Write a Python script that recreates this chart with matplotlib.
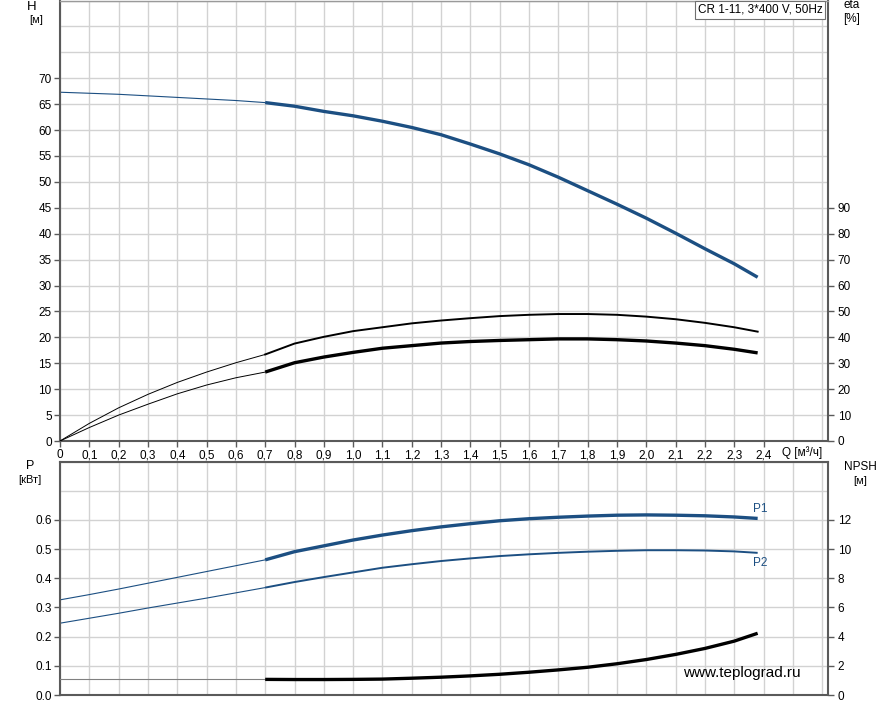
import matplotlib
matplotlib.use("Agg")
from matplotlib import pyplot as plt
from matplotlib.ticker import FixedLocator

plt.rcParams['font.family'] = ['Liberation Sans', 'DejaVu Sans']

# flow, m3/h (thin = extrapolated part, thick = working range)
q_thin = [0.0, 0.1, 0.2, 0.3, 0.4, 0.5, 0.6, 0.7]
q_work = [0.7, 0.8, 0.9, 1.0, 1.1, 1.2, 1.3, 1.4, 1.5, 1.6, 1.7, 1.8,
          1.9, 2.0, 2.1, 2.2, 2.3, 2.38]

# head H, m
h_thin = [67.3, 67.1, 66.9, 66.6, 66.3, 66.0, 65.7, 65.3]
h_work = [65.3, 64.6, 63.6, 62.75, 61.7, 60.5, 59.1, 57.3, 55.4, 53.3,
          50.9, 48.3, 45.7, 43.0, 40.1, 37.1, 34.2, 31.6]

# efficiency, % (pump and total)
eta_p_thin = [0, 6.8, 12.8, 18.0, 22.6, 26.6, 30.2, 33.4]
eta_p_work = [33.4, 37.6, 40.2, 42.4, 43.9, 45.4, 46.5, 47.4, 48.2, 48.7,
              49.0, 49.0, 48.7, 48.0, 47.0, 45.6, 43.9, 42.2]
eta_t_thin = [0, 5.2, 10.0, 14.2, 18.2, 21.6, 24.4, 26.6]
eta_t_work = [26.6, 30.2, 32.4, 34.2, 35.8, 36.8, 37.8, 38.4, 38.8, 39.1,
              39.4, 39.4, 39.1, 38.6, 37.8, 36.8, 35.4, 34.0]

# power P1 / P2, kW
p1_thin = [0.326, 0.344, 0.363, 0.383, 0.403, 0.423, 0.443, 0.463]
p1_work = [0.463, 0.491, 0.511, 0.531, 0.548, 0.563, 0.576, 0.587, 0.597,
           0.604, 0.609, 0.613, 0.616, 0.617, 0.616, 0.614, 0.610, 0.605]
p2_thin = [0.246, 0.263, 0.280, 0.298, 0.315, 0.332, 0.350, 0.368]
p2_work = [0.368, 0.387, 0.404, 0.420, 0.436, 0.448, 0.459, 0.468, 0.476,
           0.482, 0.487, 0.491, 0.494, 0.496, 0.496, 0.495, 0.492, 0.487]

# NPSH, m
npsh_thin = [1.07, 1.07, 1.07, 1.07, 1.07, 1.07, 1.07, 1.07]
npsh_work = [1.07, 1.06, 1.06, 1.07, 1.09, 1.15, 1.22, 1.31, 1.42, 1.56,
             1.72, 1.90, 2.14, 2.43, 2.78, 3.19, 3.69, 4.23]

x_ticks = [i / 10 for i in range(25)]
x_grid = [i / 10 for i in range(27)]

blue = '#1c4f82'
grid_c = '#d2d2d2'
spine_c = '#5a5a5a'
W, Hpx = 893, 705

fig = plt.figure(figsize=(W / 100, Hpx / 100), dpi=100)
ax = fig.add_axes([60 / W, 1 - 441 / Hpx, 768 / W, 440.5 / Hpx])
ax2 = fig.add_axes([60 / W, 1 - 695 / Hpx, 768 / W, 233.5 / Hpx])


def style(a, ymax, ymajor, yminor):
    a.set_xlim(0, 2.62)
    a.set_ylim(0, ymax)
    a.xaxis.set_major_locator(FixedLocator(x_ticks))
    a.xaxis.set_minor_locator(FixedLocator(x_grid))
    a.yaxis.set_major_locator(FixedLocator(ymajor))
    a.yaxis.set_minor_locator(FixedLocator(yminor))
    a.grid(True, which='both', color=grid_c, lw=1.0)
    a.set_axisbelow(True)
    a.tick_params(which='major', direction='out', length=4, width=1,
                  color=spine_c, labelsize=8.5, pad=2)
    a.tick_params(which='minor', length=0)
    for s in ['left', 'right', 'bottom']:
        a.spines[s].set_color(spine_c)
        a.spines[s].set_linewidth(1.5)
    a.spines['top'].set_color('#9a9a9a')
    a.spines['top'].set_linewidth(1.0)


# ---- top panel: H and eta
style(ax, 85, list(range(0, 75, 5)), list(range(0, 90, 5)))
ax.set_xticklabels(['0'] + [('%.1f' % v).replace('.', ',') for v in x_ticks[1:]])
ax.plot(q_thin, h_thin, color=blue, lw=0.8)
ax.plot(q_work, h_work, color=blue, lw=2.4, solid_capstyle='butt')

axe = ax.twinx()
axe.set_position(ax.get_position())
axe.set_ylim(0, 170)
axe.yaxis.set_major_locator(FixedLocator(list(range(0, 100, 10))))
axe.tick_params(direction='out', length=4, width=1, color=spine_c,
                labelsize=8.5, pad=3)
for s in axe.spines.values():
    s.set_visible(False)
axe.plot(q_thin, eta_p_thin, color='black', lw=0.7)
axe.plot(q_work, eta_p_work, color='black', lw=1.4)
axe.plot(q_thin, eta_t_thin, color='black', lw=0.7)
axe.plot(q_work, eta_t_work, color='black', lw=2.4, solid_capstyle='butt')

fig.text(802 / W, 1 - 453 / Hpx, 'Q [м³/ч]', ha='center', va='center',
         fontsize=8.5)
fig.text(32 / W, 1 - 7 / Hpx, 'H', ha='center', va='center', fontsize=9.5)
fig.text(36 / W, 1 - 20 / Hpx, '[м]', ha='center', va='center', fontsize=8)
fig.text(852 / W, 1 - 5 / Hpx, 'eta', ha='center', va='center', fontsize=8.5)
fig.text(852 / W, 1 - 19 / Hpx, '[%]', ha='center', va='center', fontsize=8.5)
fig.text(760 / W, 1 - 10 / Hpx, 'CR 1-11, 3*400 V, 50Hz', ha='center',
         va='center', fontsize=8.5,
         bbox=dict(boxstyle='square,pad=0.25', fc='white', ec='#707070', lw=0.8))

# ---- bottom panel: P1, P2 and NPSH
style(ax2, 0.8, [i / 10 for i in range(7)], [i / 10 for i in range(9)])
ax2.spines['top'].set_color(spine_c)
ax2.spines['top'].set_linewidth(1.5)
ax2.set_yticklabels(['%.1f' % (i / 10) for i in range(7)])
ax2.tick_params(axis='x', which='major', length=0, labelbottom=False)
ax2.plot(q_thin, p1_thin, color=blue, lw=0.8)
ax2.plot(q_work, p1_work, color=blue, lw=2.4, solid_capstyle='butt')
ax2.plot(q_thin, p2_thin, color=blue, lw=0.8)
ax2.plot(q_work, p2_work, color=blue, lw=1.4, solid_capstyle='butt')
ax2.text(2.39, p1_work[-1] + 0.022, 'P1', color=blue, ha='center', fontsize=8.5)
ax2.text(2.39, p2_work[-1] - 0.045, 'P2', color=blue, ha='center', fontsize=8.5)

axn = ax2.twinx()
axn.set_position(ax2.get_position())
axn.set_ylim(0, 16)
axn.yaxis.set_major_locator(FixedLocator(list(range(0, 14, 2))))
axn.tick_params(direction='out', length=4, width=1, color=spine_c,
                labelsize=8.5, pad=3)
for s in axn.spines.values():
    s.set_visible(False)
axn.plot(q_thin, npsh_thin, color='#808080', lw=0.8)
axn.plot(q_work, npsh_work, color='black', lw=2.4, solid_capstyle='butt')

fig.text(30 / W, 1 - 466 / Hpx, 'P', ha='center', va='center', fontsize=9)
fig.text(30 / W, 1 - 480 / Hpx, '[кВт]', ha='center', va='center', fontsize=8)
fig.text(860 / W, 1 - 467 / Hpx, 'NPSH', ha='center', va='center', fontsize=8.5)
fig.text(860 / W, 1 - 481 / Hpx, '[м]', ha='center', va='center', fontsize=8)
fig.text(742 / W, 1 - 673 / Hpx, 'www.teplograd.ru', ha='center', va='center',
         fontsize=11)

fig.savefig('out.png', dpi=100)
